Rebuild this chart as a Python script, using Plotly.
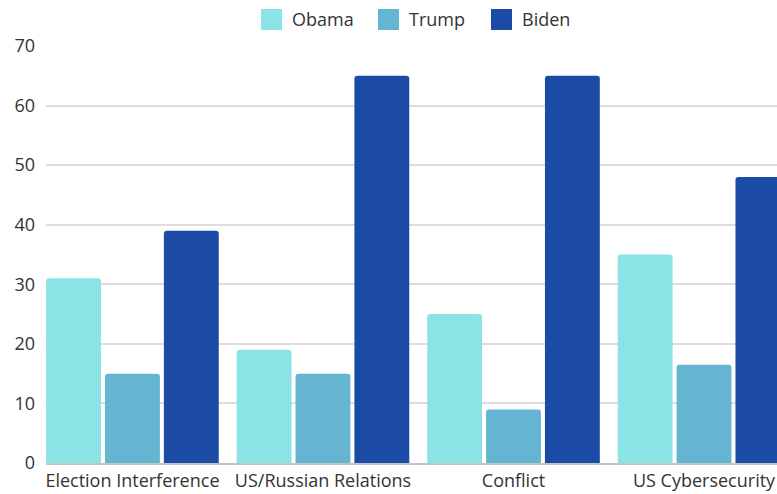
import plotly.graph_objects as go

# Survey data
categories = ["Election Interference", "US/Russian Relations", "Conflict", "US Cybersecurity"]
series_names = ["Obama", "Trump", "Biden"]
obama = [31, 19, 25, 35]
trump = [15, 15, 9, 16.5]
biden = [39, 65, 65, 48]
y_ticks = [0, 10, 20, 30, 40, 50, 60, 70]

series_values = [obama, trump, biden]
colors = ["#8CE3E6", "#65B5D2", "#1B4BA5"]

W, H = 777, 494
M_L, M_R, M_T, M_B = 46, 0, 46, 31
plot_w = W - M_L - M_R
plot_h = H - M_T - M_B

FONT = "Open Sans"
FONT_SIZE = 18
TEXT_COLOR = "#333333"

fig = go.Figure()
for name, vals, col in zip(series_names, series_values, colors):
    fig.add_trace(go.Bar(
        x=categories, y=vals, name=name,
        marker=dict(color=col, line=dict(width=0)),
        showlegend=False,
    ))


def px_to_paper_x(px):
    return (px - M_L) / plot_w


def px_to_paper_y(py):
    return (H - M_B - py) / plot_h


# Legend drawn as square swatches with labels along the top
legend_swatch_x = [261, 378, 491]
swatch = 21
sw_top = 9
shapes = []
annotations = []
for name, col, sx in zip(series_names, colors, legend_swatch_x):
    shapes.append(dict(
        type="rect", xref="paper", yref="paper",
        x0=px_to_paper_x(sx), x1=px_to_paper_x(sx + swatch),
        y0=px_to_paper_y(sw_top + swatch), y1=px_to_paper_y(sw_top),
        fillcolor=col, line=dict(width=0), layer="above",
    ))
    annotations.append(dict(
        xref="paper", yref="paper",
        x=px_to_paper_x(sx + swatch + 8), y=px_to_paper_y(sw_top + swatch / 2),
        xanchor="left", yanchor="middle", showarrow=False,
        text=name, font=dict(family=FONT, size=FONT_SIZE, color=TEXT_COLOR),
    ))

fig.update_layout(
    width=W, height=H,
    margin=dict(l=M_L, r=M_R, t=M_T, b=M_B, pad=0),
    paper_bgcolor="white", plot_bgcolor="white",
    barmode="group", bargap=0.073, bargroupgap=0.068,
    barcornerradius=3,
    font=dict(family=FONT, size=FONT_SIZE, color=TEXT_COLOR),
    showlegend=False,
    shapes=shapes, annotations=annotations,
    xaxis=dict(
        range=[-0.4537, 3.383], showgrid=False,
        showline=True, linecolor="#C4C4C4", linewidth=1.5,
        ticks="", tickfont=dict(family=FONT, size=FONT_SIZE, color=TEXT_COLOR),
        ticklabelstandoff=1, zeroline=False,
    ),
    yaxis=dict(
        range=[0, 70], tickvals=y_ticks, showgrid=True,
        gridcolor="#DDDDDD", gridwidth=1.5, zeroline=False,
        showline=False, ticks="",
        tickfont=dict(family=FONT, size=FONT_SIZE, color=TEXT_COLOR),
        ticklabelstandoff=10,
    ),
)

fig.write_html("out.html")
